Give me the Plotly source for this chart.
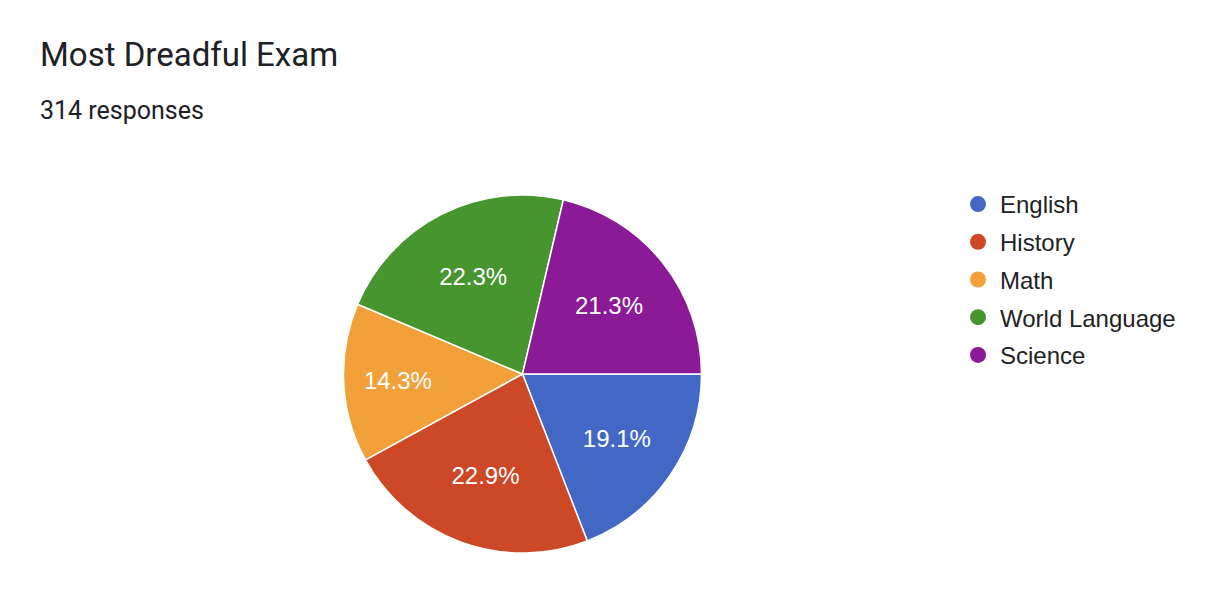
import plotly.graph_objects as go

# Most Dreadful Exam - 314 responses
labels = ['English', 'History', 'Math', 'World Language', 'Science']
counts = [60, 72, 45, 70, 67]
colors = ['#4267c5', '#cc4827', '#f2a03a', '#46952f', '#8a1a95']

W, H = 1222, 606
OFF = 8  # page body margin

fig = go.Figure()

fig.add_trace(go.Pie(
    labels=labels,
    values=counts,
    sort=False,
    direction='clockwise',
    rotation=90,
    marker=dict(colors=colors, line=dict(color='white', width=1.5)),
    textinfo='percent',
    texttemplate='%{percent:.1%}',
    textposition='inside',
    insidetextorientation='horizontal',
    textfont=dict(family='Liberation Sans, Arial', size=24, color='white'),
    showlegend=False,
    hoverinfo='label+value+percent',
    domain=dict(x=[(343 - OFF) / W, (702 - OFF) / W],
                y=[(H - 553 + OFF) / H, (H - 195 + OFF) / H]),
))

# legend entries with round markers
for lab, col in zip(labels, colors):
    fig.add_trace(go.Scatter(
        x=[None], y=[None], mode='markers', name=lab,
        legendgroup=lab,
        marker=dict(color=col, size=16, symbol='circle'),
        hoverinfo='skip',
    ))

fig.update_layout(
    width=W, height=H,
    margin=dict(l=0, r=0, t=0, b=0),
    paper_bgcolor='white',
    plot_bgcolor='white',
    xaxis=dict(visible=False),
    yaxis=dict(visible=False),
    title=dict(
        text='Most Dreadful Exam',
        font=dict(family='Roboto', size=33, color='#202124'),
        x=(40 - OFF) / W, xanchor='left',
        y=1 - (54 - OFF) / H, yanchor='middle',
    ),
    annotations=[dict(
        text='314 responses', xref='paper', yref='paper',
        x=(38 - OFF) / W, xanchor='left', y=1 - (110 - OFF) / H, yanchor='middle',
        showarrow=False,
        font=dict(family='Roboto', size=25, color='#202124'),
    )],
    legend=dict(
        x=(956 - OFF) / W, xanchor='left',
        y=1 - (182 - OFF) / H, yanchor='top',
        font=dict(family='Liberation Sans, Arial', size=24, color='#222222'),
        tracegroupgap=3.5,
        itemwidth=34,
        bgcolor='rgba(0,0,0,0)',
    ),
)

fig.write_html("out.html")
